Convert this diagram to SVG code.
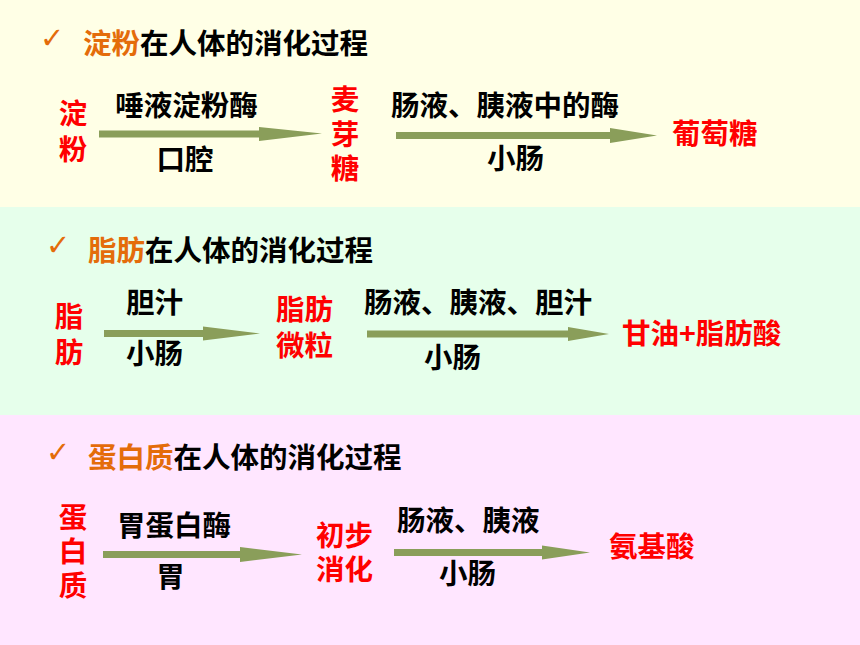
<svg xmlns="http://www.w3.org/2000/svg" width="860" height="645" viewBox="0 0 860 645">
<style>
text{font-family:"Noto Sans CJK SC","Liberation Sans",sans-serif;font-weight:bold;font-size:28.5px}
.k{fill:#000}
.r{fill:#FF0000}
.o{fill:#E46C0A}
.chk{font-family:"DejaVu Sans",sans-serif;font-weight:bold;font-size:29px;fill:#E46C0A}
.arr{fill:#8A9E5A}
</style>
<g id="backgrounds">
<rect x="0" y="0" width="860" height="207" fill="#FFFFE6"/>
<rect x="0" y="207" width="860" height="208" fill="#E6FFEB"/>
<rect x="0" y="415" width="860" height="230" fill="#FFE6FF"/>
</g>
<g id="titles">
<text class="chk" x="40" y="48">✓</text>
<text x="83" y="53.5"><tspan class="o">淀粉</tspan><tspan class="k">在人体的消化过程</tspan></text>
<text class="chk" x="46" y="255">✓</text>
<text x="88" y="260.5"><tspan class="o">脂肪</tspan><tspan class="k">在人体的消化过程</tspan></text>
<text class="chk" x="46" y="462">✓</text>
<text x="88" y="468"><tspan class="o">蛋白质</tspan><tspan class="k">在人体的消化过程</tspan></text>
</g>
<g id="connectors">
<polygon class="arr" points="99,130.5 259,130.5 259,127 322,133.5 259,141 259,137.5 99,137.5"/>
<polygon class="arr" points="396,132 610,132 610,128 657,135.5 610,143 610,139 396,139"/>
<polygon class="arr" points="104,330 203,330 203,326.5 260,333.5 203,340.5 203,337 104,337"/>
<polygon class="arr" points="367,330.5 568,330.5 568,327 609,334 568,341 568,337.5 367,337.5"/>
<polygon class="arr" points="103,551 240,551 240,547 302,554.5 240,562 240,558 103,558"/>
<polygon class="arr" points="394,549 542,549 542,545.5 590,552.5 542,559.5 542,556 394,556"/>
</g>
<g id="node-starch">
<text class="r" text-anchor="middle"><tspan x="73" y="123.5">淀</tspan><tspan x="73" y="159.5">粉</tspan></text>
</g>
<g id="label-saliva">
<text class="k" x="186.5" y="116" text-anchor="middle">唾液淀粉酶</text>
<text class="k" x="185" y="170" text-anchor="middle">口腔</text>
</g>
<g id="node-maltose">
<text class="r" text-anchor="middle"><tspan x="345" y="110">麦</tspan><tspan x="345" y="145">芽</tspan><tspan x="345" y="178.5">糖</tspan></text>
</g>
<g id="label-intestine1">
<text class="k" x="391" y="115.5">肠液、胰液中的酶</text>
<text class="k" x="515.5" y="168.5" text-anchor="middle">小肠</text>
</g>
<g id="node-glucose">
<text class="r" x="672" y="143.5">葡萄糖</text>
</g>
<g id="node-fat">
<text class="r" text-anchor="middle"><tspan x="69" y="326.5">脂</tspan><tspan x="69" y="362.5">肪</tspan></text>
</g>
<g id="label-bile">
<text class="k" x="126" y="313">胆汁</text>
<text class="k" x="126" y="364">小肠</text>
</g>
<g id="node-fat-particles">
<text class="r"><tspan x="276" y="319.5">脂肪</tspan><tspan x="276" y="355.5">微粒</tspan></text>
</g>
<g id="label-intestine2">
<text class="k" x="364" y="313">肠液、胰液、胆汁</text>
<text class="k" x="424" y="368">小肠</text>
</g>
<g id="node-glycerol">
<text class="r" x="622" y="344">甘油+脂肪酸</text>
</g>
<g id="node-protein">
<text class="r" text-anchor="middle"><tspan x="73" y="527.5">蛋</tspan><tspan x="73" y="561.5">白</tspan><tspan x="73" y="595.5">质</tspan></text>
</g>
<g id="label-pepsin">
<text class="k" x="117" y="535.5">胃蛋白酶</text>
<text class="k" x="170.5" y="586.5" text-anchor="middle">胃</text>
</g>
<g id="node-initial">
<text class="r"><tspan x="316" y="546">初步</tspan><tspan x="316" y="579.5">消化</tspan></text>
</g>
<g id="label-intestine3">
<text class="k" x="397" y="530.5">肠液、胰液</text>
<text class="k" x="439" y="583.5">小肠</text>
</g>
<g id="node-amino">
<text class="r" x="609" y="556.5">氨基酸</text>
</g>
</svg>
